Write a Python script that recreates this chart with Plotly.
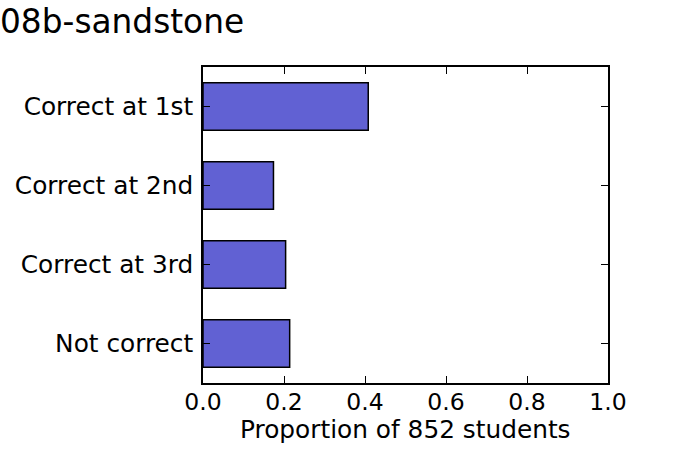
import plotly.graph_objects as go

categories = ["Correct at 1st", "Correct at 2nd", "Correct at 3rd", "Not correct"]
proportions = [0.408, 0.174, 0.204, 0.214]
x_ticks = [0.0, 0.2, 0.4, 0.6, 0.8, 1.0]
x_tick_labels = ["0.0", "0.2", "0.4", "0.6", "0.8", "1.0"]
title_text = "08b-sandstone"
x_label = "Proportion of 852 students"

font = "DejaVu Sans"
fs = 24.8

fig = go.Figure()
fig.add_trace(go.Bar(
    y=categories[::-1],
    x=proportions[::-1],
    orientation="h",
    width=0.6,
    marker=dict(color="#6161d3", line=dict(color="black", width=1.5)),
))

fig.update_layout(
    width=675, height=450,
    margin=dict(l=203, r=67, t=67, b=67, pad=0),
    paper_bgcolor="white", plot_bgcolor="white",
    showlegend=False,
    font=dict(family=font, size=fs, color="black"),
    title=dict(text=title_text, x=0, xref="container", xanchor="left",
               y=1 - 22 / 450, yref="container", yanchor="middle",
               pad=dict(l=0, r=0, t=0, b=0),
               font=dict(family=font, size=32.8, color="black")),
)
fig.add_annotation(
    text=x_label, xref="paper", yref="paper", x=0.5, y=0,
    xanchor="center", yanchor="middle", yshift=-46, showarrow=False,
    font=dict(family=font, size=fs, color="black"),
)
fig.update_xaxes(
    range=[0, 1], tickvals=x_ticks, ticktext=x_tick_labels,
    ticks="inside", ticklen=7, tickwidth=1, tickcolor="black",
    showline=True, linecolor="black", linewidth=1.6, mirror="ticks",
    showgrid=False, zeroline=False, ticklabelstandoff=-3,
    tickfont=dict(size=23.5),
)
fig.update_yaxes(
    range=[-0.5, 3.5],
    ticks="inside", ticklen=7, tickwidth=1, tickcolor="black",
    showline=True, linecolor="black", linewidth=1.6, mirror="ticks",
    showgrid=False, zeroline=False, ticklabelstandoff=3,
    tickfont=dict(size=24.8),
)

fig.write_html("out.html", post_script="document.body.style.margin='0';",
               config={"displayModeBar": False})
